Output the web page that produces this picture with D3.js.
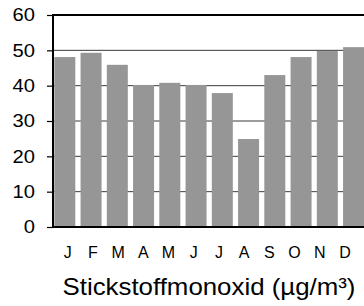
<!DOCTYPE html>
<html>
<head>
<meta charset="utf-8">
<script src="https://d3js.org/d3.v7.min.js"></script>
<style>
  body { margin: 0; background: #fff; }
  text { font-family: Arial, "Liberation Sans", sans-serif; fill: #000; }
</style>
</head>
<body>
<svg width="364" height="306"></svg>
<script>
var months = ["J", "F", "M", "A", "M", "J", "J", "A", "S", "O", "N", "D"];
var values = [48.1, 49.3, 45.9, 40.2, 40.8, 40.2, 37.9, 24.9, 43.0, 48.1, 49.8, 50.9];
var yTicks = [0, 10, 20, 30, 40, 50, 60];
var title = "Stickstoffmonoxid (µg/m³)";

var svg = d3.select("svg");
var plotLeft = 53, plotTop = 15, plotBottom = 227, plotRight = 370;

var x = d3.scaleBand()
    .domain(d3.range(months.length))
    .range([plotLeft, plotLeft + 26.25 * 11.9])
    .paddingInner(0.2)
    .paddingOuter(0.05);

// month labels sit on a slightly tighter spacing than the bars
var xl = d3.scalePoint()
    .domain(d3.range(months.length))
    .range([67.7, 345]);

var y = d3.scaleLinear().domain([0, 60]).range([plotBottom, plotTop]);

// gridlines
svg.append("g").selectAll("line")
    .data(yTicks.filter(function (d) { return d > 0 && d < 60; }))
    .enter().append("line")
    .attr("x1", plotLeft).attr("x2", plotRight)
    .attr("y1", function (d) { return y(d); })
    .attr("y2", function (d) { return y(d); })
    .attr("stroke", "#3a3a3a")
    .attr("stroke-width", 1);

// bars
svg.append("g").selectAll("rect")
    .data(values)
    .enter().append("rect")
    .attr("x", function (d, i) { return x(i); })
    .attr("width", x.bandwidth())
    .attr("y", function (d) { return y(d); })
    .attr("height", function (d) { return y(0) - y(d); })
    .attr("fill", "#969696");

// frame: top border and baseline
svg.append("line").attr("x1", plotLeft).attr("x2", plotRight)
    .attr("y1", y(60)).attr("y2", y(60))
    .attr("stroke", "#000").attr("stroke-width", 2);
svg.append("line").attr("x1", plotLeft).attr("x2", plotRight)
    .attr("y1", y(0)).attr("y2", y(0))
    .attr("stroke", "#000").attr("stroke-width", 2);

// y axis
var yAxis = svg.append("g")
    .attr("transform", "translate(" + plotLeft + ",0)")
    .call(d3.axisLeft(y).tickValues(yTicks).tickSize(6).tickPadding(12));
yAxis.select(".domain").attr("stroke-width", 2).attr("d", "M0," + (plotTop - 1) + "V" + (plotBottom + 1));
yAxis.selectAll(".tick line").attr("stroke-width", 1.2);
yAxis.selectAll(".tick text")
    .style("font-size", "18px")
    .attr("font-family", null)
    .attr("transform", "translate(-18,0) scale(1.12,1) translate(18,0)");

// month labels
svg.append("g").selectAll("text")
    .data(months)
    .enter().append("text")
    .attr("x", function (d, i) { return xl(i); })
    .attr("y", 258)
    .attr("text-anchor", "middle")
    .style("font-size", "16px")
    .text(function (d) { return d; });

// title
svg.append("text")
    .attr("x", 209)
    .attr("y", 295)
    .attr("text-anchor", "middle")
    .attr("transform", "translate(209,0) scale(1.1,1) translate(-209,0)")
    .style("font-size", "23.5px")
    .text(title);
</script>
</body>
</html>
